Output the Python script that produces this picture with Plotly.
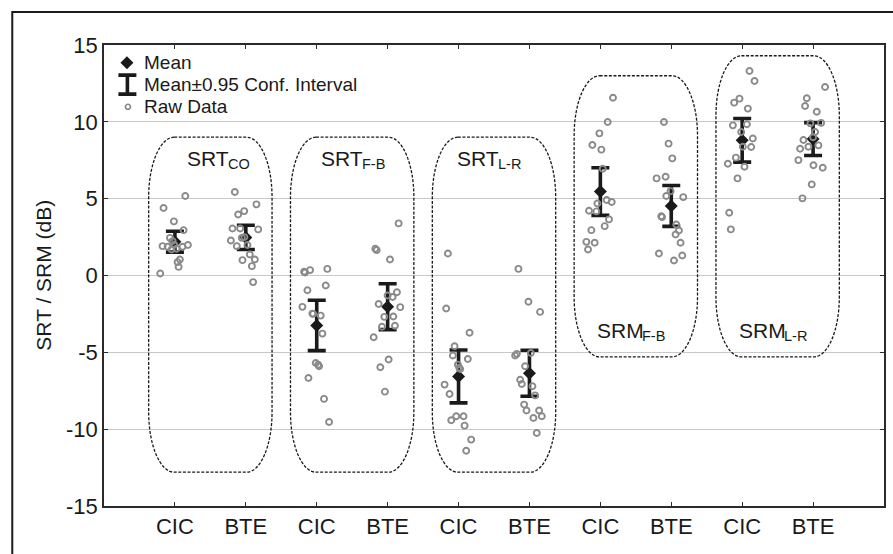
import plotly.graph_objects as go

# ---------------- data ----------------
group_main = ["SRT", "SRT", "SRT", "SRM", "SRM"]
group_sub = ["CO", "F-B", "L-R", "F-B", "L-R"]
devices = ["CIC", "BTE"]

mean_values = [2.20, 2.48, -3.25, -2.03, -6.57, -6.36, 5.46, 4.53, 8.80, 8.88]
ci_half = [0.68, 0.79, 1.64, 1.49, 1.72, 1.50, 1.55, 1.33, 1.42, 1.07]

cic_co_vals = [5.17, 4.39, 3.52, 2.95, 2.45, 2.24, 1.91, 1.87, 1.69, 1.87, 1.98, 1.74, 1.04, 0.87, 0.56, 0.13, 2.00]
cic_co_jit = [0.146, -0.16, -0.014, 0.122, -0.07, -0.033, -0.174, -0.103, -0.047, 0.108, 0.183, 0.023, 0.07, 0.038, 0.052, -0.207, -0.01]
bte_co_vals = [5.43, 4.63, 4.19, 3.97, 3.06, 3.06, 3.00, 2.45, 2.28, 1.91, 1.98, 1.37, 1.00, 1.04, 0.61, -0.43, 2.50]
bte_co_jit = [-0.155, 0.15, -0.023, -0.108, -0.188, -0.08, 0.174, -0.056, -0.211, -0.127, 0.023, 0.056, -0.047, 0.127, 0.085, 0.103, -0.02]

cic_fb_vals = [0.24, 0.35, 0.43, -0.96, -0.65, -2.04, -2.48, -2.61, -3.78, -5.69, -5.91, -6.67, -8.03, -9.53, 0.20, -2.50, -5.80]
cic_fb_jit = [-0.178, -0.094, 0.15, -0.131, 0.127, -0.202, -0.061, 0.056, 0.08, -0.014, 0.033, -0.117, 0.103, 0.174, -0.165, -0.05, 0.02]
bte_fb_vals = [3.39, 1.74, 1.65, 1.04, -1.09, -1.30, -1.40, -1.85, -2.06, -2.69, -2.67, -3.34, -3.27, -4.02, -5.47, -5.97, -7.56]
bte_fb_jit = [0.155, -0.174, -0.155, 0.033, 0.131, 0.0, 0.07, -0.127, 0.178, -0.047, 0.08, -0.08, 0.103, -0.197, 0.014, -0.103, -0.038]

cic_lr_vals = [1.43, -2.15, -3.73, -4.60, -5.21, -5.43, -5.80, -6.08, -7.10, -7.71, -9.16, -9.16, -9.42, -9.77, -10.68, -11.40, -6.00]
cic_lr_jit = [-0.15, -0.174, 0.155, -0.056, -0.08, 0.131, -0.009, 0.023, -0.197, -0.127, -0.033, 0.07, -0.103, 0.085, 0.178, 0.108, 0.01]
bte_lr_vals = [0.43, -1.71, -2.37, -5.21, -5.10, -5.04, -5.91, -6.78, -7.06, -7.21, -7.80, -8.40, -8.79, -8.79, -9.27, -9.16, -10.25]
bte_lr_jit = [-0.155, -0.014, 0.15, -0.202, -0.178, 0.019, -0.061, -0.131, -0.108, 0.042, 0.08, -0.075, -0.042, 0.136, 0.056, 0.174, 0.103]

cic_srmfb_vals = [11.57, 9.99, 9.25, 8.49, 8.19, 6.95, 4.91, 4.78, 4.69, 4.21, 4.17, 3.65, 3.21, 2.95, 2.19, 2.13, 1.69]
cic_srmfb_jit = [0.178, 0.103, -0.014, -0.113, 0.014, 0.033, 0.089, 0.16, -0.042, -0.16, -0.056, 0.122, 0.061, -0.127, -0.197, -0.08, -0.174]
bte_srmfb_vals = [9.99, 8.58, 7.62, 6.32, 6.43, 5.49, 5.17, 5.10, 3.86, 3.80, 3.32, 2.93, 2.67, 2.13, 1.43, 1.30, 0.98]
bte_srmfb_jit = [-0.103, -0.038, 0.014, -0.207, -0.08, -0.01, -0.07, 0.169, -0.141, -0.13, 0.07, 0.108, 0.061, 0.131, -0.174, 0.155, 0.038]

cic_srmlr_vals = [13.31, 12.66, 11.51, 11.25, 10.86, 9.77, 9.84, 9.34, 8.92, 8.38, 8.36, 7.67, 7.27, 7.08, 6.32, 4.08, 3.00]
cic_srmlr_jit = [0.103, 0.174, -0.038, -0.113, 0.08, -0.131, 0.066, -0.014, 0.15, 0.009, 0.127, -0.089, -0.202, 0.033, -0.066, -0.183, -0.16]
bte_srmlr_vals = [12.27, 11.53, 11.03, 10.66, 9.90, 9.93, 9.34, 8.82, 8.25, 8.38, 8.47, 7.51, 7.17, 7.01, 5.93, 5.02, 9.00]
bte_srmlr_jit = [0.169, -0.089, -0.113, 0.052, -0.038, 0.113, 0.028, -0.136, -0.183, -0.066, 0.075, -0.207, 0.005, 0.136, -0.019, -0.15, 0.0]

box_top = [9.0, 9.0, 9.0, 13.0, 14.3]
box_bottom = [-12.8, -12.8, -12.8, -5.3, -5.3]
label_y = [7.6, 7.6, 7.6, -3.55, -3.55]
label_split = [1.75, 3.64, 5.56, 7.60, 9.60]

y_ticks = [-15, -10, -5, 0, 5, 10, 15]
y_ticktext = ["-15", "-10", "-5", "0", "5", "10", "15"]

legend_labels = ["Mean", "Mean±0.95 Conf. Interval", "Raw Data"]

raw_vals = [cic_co_vals, bte_co_vals, cic_fb_vals, bte_fb_vals, cic_lr_vals,
            bte_lr_vals, cic_srmfb_vals, bte_srmfb_vals, cic_srmlr_vals, bte_srmlr_vals]
raw_jit = [cic_co_jit, bte_co_jit, cic_fb_jit, bte_fb_jit, cic_lr_jit,
           bte_lr_jit, cic_srmfb_jit, bte_srmfb_jit, cic_srmlr_jit, bte_srmlr_jit]

# ---------------- styling ----------------
FONT = "Liberation Sans, Arial, Helvetica, sans-serif"
TXT = "#1a1a1a"
GREY = "#8a8a8a"
X_RANGE = [0, 11]
Y_RANGE = [-15, 15]

positions = list(range(1, len(group_main) * len(devices) + 1))
tick_text = [devices[(p - 1) % 2] for p in positions]


def frac_x(f):
    return X_RANGE[0] + f * (X_RANGE[1] - X_RANGE[0])


def frac_y(f):
    return Y_RANGE[0] + f * (Y_RANGE[1] - Y_RANGE[0])


fig = go.Figure()

# means with confidence intervals
fig.add_trace(go.Scatter(
    x=positions, y=mean_values, mode="markers",
    marker=dict(symbol="diamond", size=10, color=TXT),
    error_y=dict(type="data", array=ci_half, visible=True,
                 thickness=3.6, width=9, color=TXT),
    showlegend=False, hoverinfo="skip"))

# raw data
xs, ys = [], []
for p, vals, jit in zip(positions, raw_vals, raw_jit):
    for v, j in zip(vals, jit):
        xs.append(p + j)
        ys.append(v)
fig.add_trace(go.Scatter(
    x=xs, y=ys, mode="markers",
    marker=dict(symbol="circle-open", size=6, color=GREY, line=dict(width=1.9, color=GREY)),
    showlegend=False, hoverinfo="skip"))

# dashed rounded group boxes
half_w, rx, ry, k = 0.87, 0.36, 3.9, 0.5523
shapes = []
for i in range(len(group_main)):
    c = 2 * i + 1.5
    x0, x1 = c - half_w, c + half_w
    yt, yb = box_top[i], box_bottom[i]
    q = 1 - k
    path = (f"M {x0+rx},{yt} L {x1-rx},{yt} "
            f"C {x1-q*rx},{yt} {x1},{yt-q*ry} {x1},{yt-ry} "
            f"L {x1},{yb+ry} "
            f"C {x1},{yb+q*ry} {x1-q*rx},{yb} {x1-rx},{yb} "
            f"L {x0+rx},{yb} "
            f"C {x0+q*rx},{yb} {x0},{yb+q*ry} {x0},{yb+ry} "
            f"L {x0},{yt-ry} "
            f"C {x0},{yt-q*ry} {x0+q*rx},{yt} {x0+rx},{yt} Z")
    shapes.append(dict(type="path", path=path, xref="x", yref="y",
                       line=dict(color=TXT, width=1.3, dash="3px,1.6px"),
                       layer="above"))

# outer frame of the figure (left and top edges visible)
shapes.append(dict(type="rect", xref="paper", yref="paper",
                   x0=-0.1176, x1=1.3, y0=-0.3, y1=1.0716,
                   line=dict(color=TXT, width=2), fillcolor="rgba(0,0,0,0)"))

annotations = []
for i in range(len(group_main)):
    annotations.append(dict(x=label_split[i], y=label_y[i], xref="x", yref="y",
                            text=group_main[i], showarrow=False, borderpad=0,
                            xshift=2,
                            font=dict(family=FONT, size=21, color=TXT),
                            xanchor="right", yanchor="middle"))
    annotations.append(dict(x=label_split[i], y=label_y[i], xref="x", yref="y",
                            text=group_sub[i], showarrow=False, borderpad=0,
                            xshift=-1.5, yshift=-5.5,
                            font=dict(family=FONT, size=14.5, color=TXT),
                            xanchor="left", yanchor="middle"))

# y-axis title
annotations.append(dict(x=-0.078, y=0.5, xref="paper", yref="paper",
                        text="SRT / SRM (dB)", textangle=-90, showarrow=False,
                        font=dict(family=FONT, size=21, color=TXT),
                        xanchor="center", yanchor="middle"))

# custom legend (top-left inside the plot area)
leg_rows = [0.9616, 0.914, 0.866]
fig.add_trace(go.Scatter(x=[frac_x(0.0294)], y=[frac_y(leg_rows[0])],
                         mode="markers", marker=dict(symbol="diamond", size=10, color=TXT),
                         showlegend=False, hoverinfo="skip"))
fig.add_trace(go.Scatter(x=[frac_x(0.030)], y=[frac_y(leg_rows[1])],
                         mode="markers", marker=dict(size=1, color="rgba(0,0,0,0)"),
                         error_y=dict(type="data", array=[0.0206 * (Y_RANGE[1] - Y_RANGE[0])],
                                      visible=True, thickness=3.6, width=9, color=TXT),
                         showlegend=False, hoverinfo="skip"))
fig.add_trace(go.Scatter(x=[frac_x(0.0307)], y=[frac_y(leg_rows[2])],
                         mode="markers",
                         marker=dict(symbol="circle-open", size=5, color=GREY,
                                     line=dict(width=1.7, color=GREY)),
                         showlegend=False, hoverinfo="skip"))
for yy, lab in zip(leg_rows, legend_labels):
    annotations.append(dict(x=0.0482, y=yy, xref="paper", yref="paper", text=lab,
                            showarrow=False, xanchor="left", yanchor="middle",
                            font=dict(family=FONT, size=19, color=TXT)))

fig.update_layout(
    width=893, height=554,
    margin=dict(l=104, r=7, t=45, b=48),
    paper_bgcolor="white", plot_bgcolor="white",
    font=dict(family=FONT, color=TXT),
    shapes=shapes, annotations=annotations,
    xaxis=dict(range=X_RANGE, tickvals=positions, ticktext=tick_text,
               showgrid=False, zeroline=False, showline=True, linecolor="#2a2a2a",
               linewidth=1.6, mirror="ticks", ticks="inside", ticklen=4,
               tickcolor="#2a2a2a", tickwidth=1.2,
               tickfont=dict(family=FONT, size=22, color=TXT)),
    yaxis=dict(range=Y_RANGE, tickvals=y_ticks, ticktext=y_ticktext,
               showgrid=True, gridcolor="#c8c8c8", gridwidth=1, zeroline=False,
               showline=True, linecolor="#2a2a2a", linewidth=1.6, mirror="ticks",
               ticks="inside", ticklen=4, tickcolor="#2a2a2a", tickwidth=1.2,
               tickfont=dict(family=FONT, size=22, color=TXT)),
    showlegend=False,
)

fig.write_html("out.html")
